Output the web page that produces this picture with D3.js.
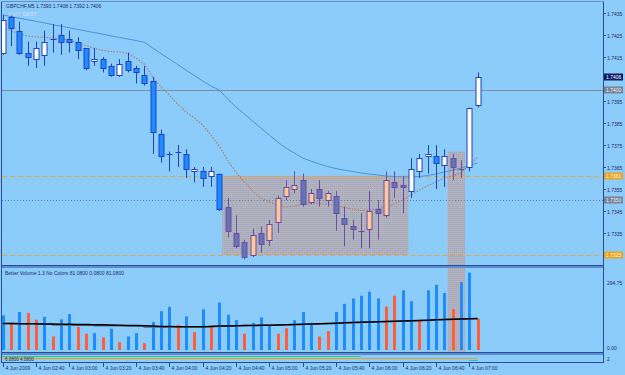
<!DOCTYPE html>
<html><head><meta charset="utf-8">
<script src="https://cdn.jsdelivr.net/npm/d3@7/dist/d3.min.js"></script>
<style>
html,body{margin:0;padding:0;background:#8cccfa;}
svg{display:block;font-family:"Liberation Sans",Arial,sans-serif;}
</style></head><body><div id="chart"></div>
<script>
// GBPCHF M5, 4 Jun 2009 02:20 .. 07:05 (bar index 0..57)
const open  = [1.7417,1.7433,1.7427,1.7417,1.7414,1.7416,1.7423,1.7425,1.7423,1.7422,1.7419,1.7413,1.7414,1.7411,1.7407,1.7413,1.7410,1.7407,1.7404,1.7380,1.7371,1.7372,1.7371,1.7363,1.7363,1.7361,1.7362,1.7347,1.7335,1.7331,1.7325,1.7335,1.7332,1.7340,1.7352,1.7355,1.7359,1.7349,1.7355,1.7350,1.7352,1.7342,1.7338,1.7336,1.7337,1.7346,1.7343,1.7358,1.7357,1.7354,1.7363,1.7370,1.7370,1.7366,1.7369,1.7364,1.7365,1.7393];
const high  = [1.7434,1.7434,1.7431,1.7422,1.7422,1.7427,1.7430,1.7430,1.7427,1.7424,1.7419,1.7419,1.7415,1.7412,1.7414,1.7417,1.7411,1.7411,1.7406,1.7382,1.7372,1.7375,1.7373,1.7365,1.7365,1.7365,1.7362,1.7351,1.7343,1.7332,1.7337,1.7338,1.7341,1.7352,1.7359,1.7363,1.7362,1.7355,1.7359,1.7354,1.7354,1.7347,1.7341,1.7344,1.7354,1.7350,1.7363,1.7363,1.7361,1.7369,1.7371,1.7375,1.7375,1.7373,1.7371,1.7368,1.7392,1.7408];
const low   = [1.7416,1.7420,1.7416,1.7411,1.7410,1.7411,1.7417,1.7416,1.7417,1.7414,1.7409,1.7411,1.7408,1.7406,1.7406,1.7408,1.7403,1.7402,1.7371,1.7367,1.7363,1.7365,1.7360,1.7358,1.7356,1.7356,1.7345,1.7333,1.7328,1.7323,1.7324,1.7326,1.7329,1.7335,1.7350,1.7353,1.7347,1.7348,1.7347,1.7347,1.7336,1.7329,1.7332,1.7328,1.7328,1.7332,1.7342,1.7351,1.7344,1.7351,1.7360,1.7362,1.7355,1.7356,1.7359,1.7360,1.7363,1.7392];
const close = [1.7432,1.7428,1.7417,1.7415,1.7419,1.7422,1.7423,1.7422,1.7422,1.7418,1.7410,1.7414,1.7410,1.7407,1.7412,1.7409,1.7408,1.7403,1.7381,1.7370,1.7371,1.7372,1.7364,1.7364,1.7360,1.7363,1.7346,1.7336,1.7329,1.7324,1.7334,1.7330,1.7339,1.7351,1.7356,1.7357,1.7348,1.7353,1.7351,1.7353,1.7344,1.7339,1.7337,1.7336,1.7345,1.7344,1.7359,1.7356,1.7356,1.7364,1.7369,1.7371,1.7367,1.7370,1.7365,1.7364,1.7392,1.7406];

// moving averages on price
const maSlow = [1.74341,1.74334,1.74326,1.74319,1.74312,1.74305,1.74297,1.74290,1.74283,1.74275,1.74268,1.74261,1.74254,1.74246,1.74239,1.74232,1.74225,1.74217,1.74191,1.74166,1.74141,1.74116,1.74091,1.74066,1.74041,1.74018,1.74000,1.73959,1.73923,1.73891,1.73859,1.73827,1.73795,1.73764,1.73736,1.73714,1.73691,1.73677,1.73664,1.73652,1.73643,1.73636,1.73630,1.73623,1.73618,1.73614,1.73609,1.73607,1.73605,1.73605,1.73607,1.73611,1.73618,1.73627,1.73636,1.73645,1.73657,1.73668];
const maFast = [1.74282,1.74268,1.74257,1.74245,1.74241,1.74239,1.74236,1.74232,1.74225,1.74216,1.74202,1.74189,1.74180,1.74175,1.74173,1.74166,1.74145,1.74118,1.74059,1.74014,1.73977,1.73936,1.73900,1.73873,1.73841,1.73795,1.73745,1.73682,1.73627,1.73582,1.73541,1.73509,1.73491,1.73477,1.73468,1.73473,1.73480,1.73484,1.73484,1.73480,1.73475,1.73466,1.73459,1.73452,1.73455,1.73459,1.73468,1.73482,1.73500,1.73523,1.73545,1.73564,1.73582,1.73600,1.73609,1.73623,1.73659,1.73695];

// Better Volume
const volume   = [128,97,140,137,112,122,50,113,132,85,60,62,47,79,29,50,62,25,103,143,159,93,124,66,150,90,175,130,110,60,100,120,90,60,80,110,140,100,50,70,140,170,190,200,215,190,160,200,220,180,110,220,240,210,150,250,285,115];
const volColor = ["b","r","b","r","r","b","r","b","b","r","r","b","r","b","r","b","b","r","b","b","b","r","b","r","b","r","b","b","b","r","b","b","b","r","r","b","b","b","r","r","b","b","b","b","b","b","r","r","b","b","r","b","b","b","r","b","b","r"];
const volAvg   = [98,98,97,97,97,96,96,95,95,94,94,93,93,92,91,90,90,89,88,87,87,86,86,86,86,87,88,88,89,90,90,91,91,92,93,94,95,96,97,98,99,100,101,102,103,104,105,106,107,108,109,110,111,112,113,114,115,116];
const volAvg2  = [98,98,97,97,95,95,92,92,91,91,91,89,89,89,89,88,88,85,85,85,86,86,86,86,86,87,88,88,89,90,90,91,91,92,93,94,95,96,97,98,99,100,101,102,103,104,105,106,107,108,109,110,111,112,113,114,115,116];

// lower sub-window lines
const subLines = [
  {value: 6.08, from: 0, to: 43, color: "#3cc85a"},
  {value: 4.08, from: 0, to: 57, color: "#e8a020"},
  {value: 2,    from: 56, to: 57, color: "#18c8f0"}
];

// objects
const hLevels = [
  {price: 1.7400, kind: "solid"},
  {price: 1.7350, kind: "dot"},
  {price: 1.7361, kind: "dash"},
  {price: 1.7325, kind: "dash"}
];
const boxes = [
  {from: 26.35, to: 48.7, top: 1.7361, bottom: 1.7325},
  {from: 53.4, to: 55.5, top: 1.7372, bottom: null}
];
const priceTicks = [1.7435,1.7425,1.7415,1.7395,1.7385,1.7375,1.7365,1.7355,1.7345,1.7335];
const priceTags = [
  {price: 1.7406, fill: "#0c1a66", text: "#ffffff"},
  {price: 1.7400, fill: "#7a8494", text: "#e8eef8"},
  {price: 1.7361, fill: "#e8a628", text: "#fff4d8"},
  {price: 1.7350, fill: "#7a8494", text: "#e8eef8"},
  {price: 1.7325, fill: "#e8a628", text: "#fff4d8"}
];
const timeTickBars = [0,4,8,12,16,20,24,28,32,36,40,44,48,52,56];
const timeLabels = ["4 Jun 2009","4 Jun 02:40","4 Jun 03:00","4 Jun 03:20","4 Jun 03:40","4 Jun 04:00","4 Jun 04:20","4 Jun 04:40","4 Jun 05:00","4 Jun 05:20","4 Jun 05:40","4 Jun 06:00","4 Jun 06:20","4 Jun 06:40","4 Jun 07:00"];

const W = 625, H = 375;
const L = 2, R = 603;
const pMain = {t: 2, b: 265}, pVol = {t: 268, b: 352}, pSub = {t: 355, b: 362};
const ink = "#1c2a66", frame = "#2a4c9c", bg = "#8cccfa";

const svg = d3.select("#chart").append("svg").attr("width", W).attr("height", H);
svg.append("rect").attr("width", W).attr("height", H).attr("fill", bg);

const defs = svg.append("defs");
const pat = defs.append("pattern").attr("id", "stip").attr("width", 2).attr("height", 2).attr("patternUnits", "userSpaceOnUse");
pat.append("rect").attr("width", 2).attr("height", 2).attr("fill", "#b2b3c0");
pat.append("rect").attr("width", 1).attr("height", 1).attr("fill", "#a4a6b6");
defs.append("clipPath").attr("id", "cMain").append("rect").attr("x", L).attr("y", pMain.t).attr("width", R - L).attr("height", pMain.b - pMain.t);
defs.append("clipPath").attr("id", "cVol").append("rect").attr("x", L).attr("y", pVol.t).attr("width", R - L).attr("height", pVol.b - pVol.t);

const x = d3.scaleLinear().domain([0, 57]).range([2.7, 477.5]);
const y = d3.scaleLinear().domain([1.7325, 1.7435]).range([255, 13]);
const yv = d3.scaleLinear().domain([0, 294.75]).range([350, 270]);
const ys = d3.scaleLinear().domain([0, 8]).range([pSub.b, pSub.b - 8]);

const bars = open.map((o, i) => ({i, o, h: high[i], l: low[i], c: close[i]}));
const inBox = i => boxes.some(b => i >= b.from && i <= b.to);
const px = v => Math.round(v) + 0.5;

// ---------- main window ----------
const gm = svg.append("g").attr("clip-path", "url(#cMain)");

boxes.forEach(b => {
  gm.append("rect").attr("x", x(b.from)).attr("width", x(b.to) - x(b.from))
    .attr("y", y(b.top)).attr("height", (b.bottom == null ? pMain.b : y(b.bottom)) - y(b.top))
    .attr("fill", "url(#stip)");
});

hLevels.forEach(h => {
  const ln = gm.append("line").attr("x1", L).attr("x2", R).attr("y1", px(y(h.price))).attr("y2", px(y(h.price)));
  if (h.kind === "solid") ln.attr("stroke", "#7b8ea6");
  if (h.kind === "dot") ln.attr("stroke", "#6c7c9c").attr("stroke-dasharray", "1,2");
  if (h.kind === "dash") ln.attr("stroke", "#e2a63a").attr("stroke-dasharray", "5,3");
});

gm.append("path").datum(maSlow)
  .attr("d", d3.line().x((d, i) => x(i)).y(d => y(d)))
  .attr("fill", "none").attr("stroke", "#4a94d8").attr("stroke-width", 1);
gm.append("path").datum(maFast)
  .attr("d", d3.line().x((d, i) => x(i)).y(d => y(d)))
  .attr("fill", "none").attr("stroke", "#b07a62").attr("stroke-width", 1.1).attr("stroke-dasharray", "1.5,1.5");

bars.forEach(b => {
  const cx = Math.round(x(b.i)) + 0.5, inside = inBox(b.i);
  const wick = inside ? "#6a4ea2" : "#1c40d0";
  gm.append("line").attr("x1", cx).attr("x2", cx).attr("y1", y(b.h)).attr("y2", y(b.l))
    .attr("stroke", wick).attr("stroke-width", 1);
  if (b.o === b.c) {
    gm.append("line").attr("x1", cx - 3).attr("x2", cx + 3).attr("y1", px(y(b.o))).attr("y2", px(y(b.o)))
      .attr("stroke", wick);
    return;
  }
  const up = b.c > b.o;
  const fill = inside ? (up ? "#ffc89c" : "#6474b4") : (up ? "#fffff0" : "#1e8cff");
  const top = Math.round(y(Math.max(b.o, b.c))), bot = Math.round(y(Math.min(b.o, b.c)));
  gm.append("rect").attr("x", cx - 2.5).attr("y", top + 0.5).attr("width", 5).attr("height", Math.max(1, bot - top))
    .attr("fill", fill).attr("stroke", wick).attr("stroke-width", 1);
});

svg.append("text").attr("x", 6).attr("y", 8).attr("font-size", 5).attr("fill", ink)
  .text("GBPCHF,M5  1.7393 1.7408 1.7392 1.7406");
const gmt = svg.append("text").attr("x", 8).attr("y", 16).attr("font-size", 5.5).attr("fill", "#c4d2e2");
gmt.append("tspan").text("GMT: ");
gmt.append("tspan").attr("fill", "#dde8f4").text("03:07");

// ---------- volume window ----------
const gv = svg.append("g").attr("clip-path", "url(#cVol)");
boxes.filter(b => b.bottom == null).forEach(b => {
  gv.append("rect").attr("x", x(b.from)).attr("width", x(b.to) - x(b.from))
    .attr("y", pVol.t).attr("height", pVol.b - pVol.t).attr("fill", "url(#stip)");
});
volume.forEach((v, i) => {
  gv.append("rect").attr("x", Math.round(x(i)) - 1).attr("width", 3)
    .attr("y", yv(v)).attr("height", yv(0) - yv(v))
    .attr("fill", volColor[i] === "b" ? "#1e8cff" : "#ff5e3a");
});
gv.append("path").datum(volAvg2)
  .attr("d", d3.line().curve(d3.curveStepAfter).x((d, i) => x(i)).y(d => yv(d)))
  .attr("fill", "none").attr("stroke", "#4f6f8f").attr("stroke-width", 1.5);
gv.append("path").datum(volAvg)
  .attr("d", d3.line().x((d, i) => x(i)).y(d => yv(d)))
  .attr("fill", "none").attr("stroke", "#000").attr("stroke-width", 1.5);
svg.append("text").attr("x", 5).attr("y", 275).attr("font-size", 5).attr("fill", ink)
  .text("Better Volume 1.3 No Colors 81.0800 0.0800 81.0800");

// ---------- sub window ----------
subLines.forEach(s => {
  svg.append("line").attr("x1", s.from === 0 ? L : x(s.from)).attr("x2", x(s.to))
    .attr("y1", px(ys(s.value))).attr("y2", px(ys(s.value)))
    .attr("stroke", s.color).attr("stroke-width", 1);
});
svg.append("text").attr("x", 5).attr("y", 361).attr("font-size", 4.5).attr("fill", ink).text("6.0800 4.0800");

// ---------- frames ----------
const fr = svg.append("g").attr("stroke", frame).attr("fill", "none");
fr.append("line").attr("x1", 1.5).attr("x2", 1.5).attr("y1", 1).attr("y2", 363);
fr.append("line").attr("x1", R + 0.5).attr("x2", R + 0.5).attr("y1", 1).attr("y2", 363);
fr.append("line").attr("x1", 1).attr("x2", R + 1).attr("y1", 1.5).attr("y2", 1.5).attr("stroke", "#6a8ec8");
[pMain.b + 0.5, pMain.b + 2, pVol.b + 0.5, pVol.b + 2, pSub.b + 0.5].forEach(v => {
  fr.append("line").attr("x1", 1).attr("x2", R + 1).attr("y1", v).attr("y2", v).attr("stroke-width", 1.2);
});

// price axis
priceTicks.forEach(p => {
  const yy = px(y(p));
  svg.append("line").attr("x1", R).attr("x2", R + 3).attr("y1", yy).attr("y2", yy).attr("stroke", frame);
  svg.append("text").attr("x", R + 4).attr("y", yy + 2).attr("font-size", 5).attr("fill", ink).text(p.toFixed(4));
});
priceTags.forEach(t => {
  const yy = Math.round(y(t.price));
  svg.append("rect").attr("x", R + 1).attr("y", yy - 3.5).attr("width", 19).attr("height", 7).attr("fill", t.fill);
  svg.append("text").attr("x", R + 3).attr("y", yy + 2).attr("font-size", 5).attr("fill", t.text).text(t.price.toFixed(4));
});
svg.append("text").attr("x", R + 4).attr("y", 285).attr("font-size", 5).attr("fill", ink).text("294.75");
svg.append("text").attr("x", R + 4).attr("y", 350).attr("font-size", 5).attr("fill", ink).text("0.00");
svg.append("text").attr("x", R + 4).attr("y", 361).attr("font-size", 5).attr("fill", ink).text("2");

// time axis
timeTickBars.forEach((bi, k) => {
  const xx = Math.round(x(bi)) + 0.5;
  svg.append("line").attr("x1", xx).attr("x2", xx).attr("y1", 363).attr("y2", 367).attr("stroke", frame);
  svg.append("text").attr("x", xx + 2).attr("y", 370).attr("font-size", 5).attr("fill", ink).text(timeLabels[k]);
});
</script></body></html>
